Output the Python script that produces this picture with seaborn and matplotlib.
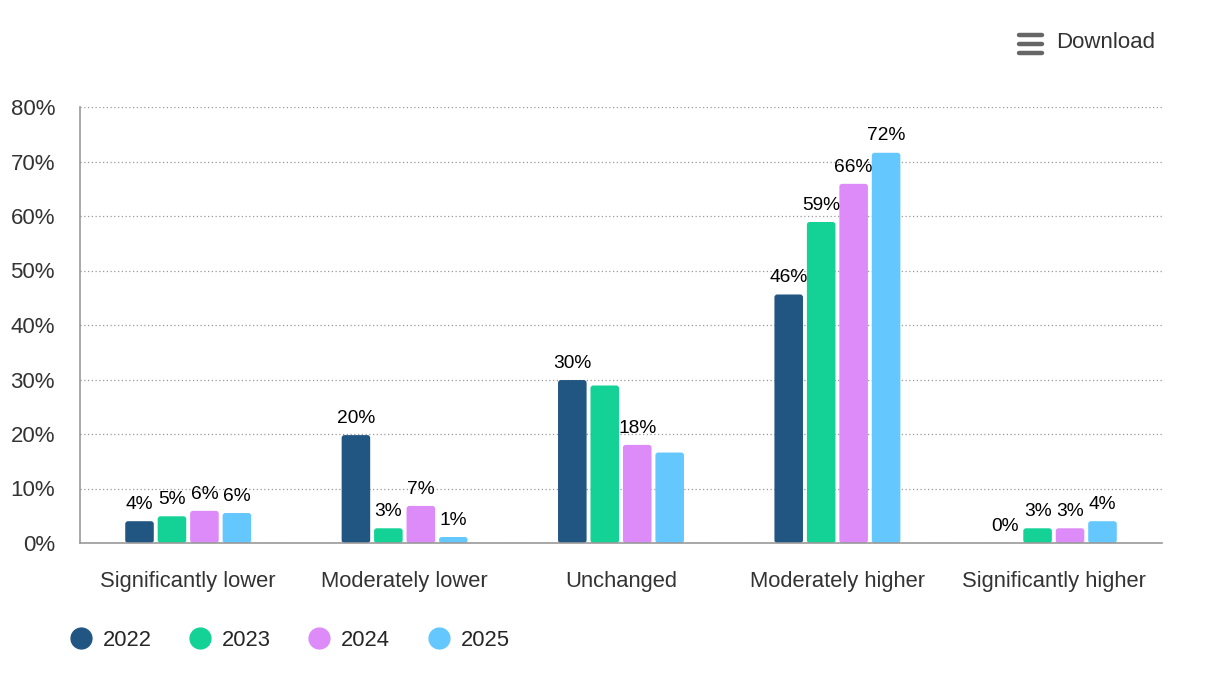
import numpy as np
import pandas as pd
import seaborn as sns
import matplotlib.pyplot as plt
from matplotlib.lines import Line2D
from matplotlib.patches import FancyBboxPatch

categories = ["Significantly lower", "Moderately lower", "Unchanged",
              "Moderately higher", "Significantly higher"]
years = ["2022", "2023", "2024", "2025"]
values = {
    "2022": [4.0, 19.8, 29.9, 45.6, 0.0],
    "2023": [4.9, 2.7, 28.9, 58.9, 2.7],
    "2024": [5.9, 6.8, 18.0, 65.9, 2.7],
    "2025": [5.5, 1.1, 16.6, 71.6, 4.0],
}
# labels hidden where the original chart dropped overlapping ones
labels = {
    "2022": ["4%", "20%", "30%", "46%", "0%"],
    "2023": ["5%", "3%", "", "59%", "3%"],
    "2024": ["6%", "7%", "18%", "66%", "3%"],
    "2025": ["6%", "1%", "", "72%", "4%"],
}
colors = ["#215683", "#14d296", "#dc8bf8", "#64c7fd"]
yticks = [0, 10, 20, 30, 40, 50, 60, 70, 80]

rows = []
for y in years:
    for c, v in zip(categories, values[y]):
        rows.append({"category": c, "year": y, "value": v})
df = pd.DataFrame(rows)

sns.set_style("white")
plt.rcParams["font.family"] = ["Liberation Sans", "DejaVu Sans"]

fig = plt.figure(figsize=(12.09, 6.83), dpi=100)
ax = fig.add_axes([80 / 1209, 1 - 543 / 683, 1082 / 1209, 436 / 683])

sns.barplot(data=df, x="category", y="value", hue="year", palette=colors,
            width=0.6, gap=0.12, ax=ax, legend=False, saturation=1)

for cont, y in zip(ax.containers, years):
    ax.bar_label(cont, labels=labels[y], padding=6, fontsize=13.8, color="black")

ax.set_ylim(0, 80)
ax.set_xlim(-0.5, 4.5)

# rounded bar corners
aspect = (80 / 436) / (5 / 1082)
for p in list(ax.patches):
    x, y0 = p.get_x(), p.get_y()
    w, h = p.get_width(), p.get_height()
    if h <= 0:
        p.remove()
        continue
    fb = FancyBboxPatch((x, y0), w, h, boxstyle="round,pad=0,rounding_size=0.013",
                        mutation_aspect=aspect, facecolor=p.get_facecolor(),
                        edgecolor="none", zorder=p.get_zorder())
    ax.add_patch(fb)
    p.remove()

ax.set_yticks(yticks)
ax.set_yticklabels([f"{t}%" for t in yticks], fontsize=16, color="#333333")
ax.tick_params(axis="x", labelsize=15.8, colors="#333333", length=0, pad=20)
ax.tick_params(axis="y", length=0, pad=18)
ax.set_xlabel("")
ax.set_ylabel("")
ax.grid(axis="y", color="#999999", linestyle=(0, (1, 2)), linewidth=0.9)
ax.set_axisbelow(True)
for s in ["top", "right"]:
    ax.spines[s].set_visible(False)
ax.spines["left"].set_color("#999999")
ax.spines["bottom"].set_color("#999999")
ax.spines["left"].set_linewidth(1.2)
ax.spines["bottom"].set_linewidth(1.2)
ax.spines["bottom"].set_zorder(5)

handles = [Line2D([], [], marker="o", linestyle="", markersize=15,
                  markerfacecolor=c, markeredgecolor=c) for c in colors]
fig.legend(handles, years, loc="center left", bbox_to_anchor=(48 / 1209, 1 - 640 / 683),
           ncol=4, frameon=False, fontsize=15.8, handletextpad=0.4,
           columnspacing=1.6, handlelength=1.2)

# Download button
for yy in [35, 44, 53]:
    fig.add_artist(Line2D([1019 / 1209, 1042 / 1209],
                          [1 - yy / 683, 1 - yy / 683],
                          color="#666666", linewidth=3.2, solid_capstyle="round"))
fig.text(1056 / 1209, 1 - 43 / 683, "Download", fontsize=16, color="#333333",
         va="center", ha="left")

fig.savefig("out.png", dpi=100)
